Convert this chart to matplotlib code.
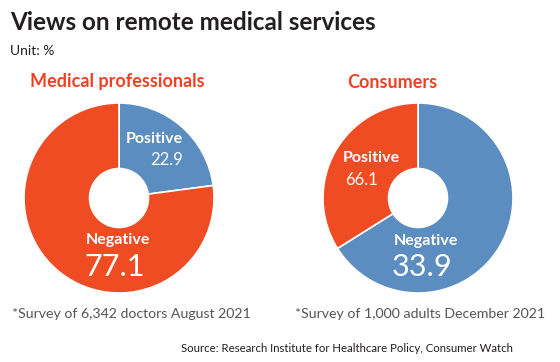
import matplotlib
matplotlib.use("Agg")
import matplotlib.pyplot as plt

W, H = 560, 362
FONT = "Lato"

BLUE = "#5b8dc0"
ORANGE = "#ef4c23"
DARK = "#231f20"
GRAY = "#555555"
TITLE_ORANGE = "#ef4123"

title = "Views on remote medical services"
unit = "Unit: %"
source = "Source: Research Institute for Healthcare Policy, Consumer Watch"

# Medical professionals (drawn clockwise from 12 o'clock)
med_title = "Medical professionals"
med_slices = [22.9, 77.1]
med_colors = [BLUE, ORANGE]
med_labels = ["Positive", "Negative"]
med_values = ["22.9", "77.1"]
med_note = "*Survey of 6,342 doctors August 2021"

# Consumers: slice sizes as drawn in the picture (blue then orange)
con_title = "Consumers"
con_slices = [66.1, 33.9]
con_colors = [BLUE, ORANGE]
con_labels = ["Negative", "Positive"]
con_values = ["33.9", "66.1"]
con_note = "*Survey of 1,000 adults December 2021"

fig = plt.figure(figsize=(W / 100, H / 100), dpi=100)
fig.patch.set_facecolor("white")


def fx(x):
    return x / W


def fy(y):
    return 1 - y / H


def txt(x, y, s, size, color, weight="normal", ha="left", va="center"):
    fig.text(fx(x), fy(y), s, fontsize=size, color=color, fontweight=weight,
             ha=ha, va=va, family=FONT)


def donut(cx, cy, r, slices, colors):
    ax = fig.add_axes([fx(cx - r), fy(cy + r), 2 * r / W, 2 * r / H])
    ax.pie(slices, colors=colors, startangle=90, counterclock=False, radius=1,
           wedgeprops=dict(width=1 - 0.31, edgecolor="white", linewidth=1.2))
    ax.set_xlim(-1, 1)
    ax.set_ylim(-1, 1)
    ax.set_aspect("equal")
    ax.axis("off")


donut(119, 198, 95, med_slices, med_colors)
donut(418, 198, 95, con_slices, con_colors)

txt(10, 22, title, 17.5, DARK, weight="bold")
txt(10, 51, unit, 10, DARK)
txt(30, 82, med_title, 13, TITLE_ORANGE, weight="bold")
txt(347, 82, con_title, 13, TITLE_ORANGE, weight="bold")

# left donut labels
txt(183, 139, med_labels[0], 11.5, "white", weight="bold", ha="right")
txt(183, 160, med_values[0], 12, "white", ha="right")
txt(118, 240, med_labels[1], 11.5, "white", weight="bold", ha="center")
txt(115, 267, med_values[1], 22, "white", ha="center")

# right donut labels
txt(343, 158, con_labels[1], 11.5, "white", weight="bold", ha="left")
txt(345, 180, con_values[1], 12, "white", ha="left")
txt(426, 241, con_labels[0], 11.5, "white", weight="bold", ha="center")
txt(422, 267, con_values[0], 22, "white", ha="center")

txt(12, 314, med_note, 10.2, GRAY)
txt(295, 314, con_note, 10.2, GRAY)
txt(513, 348, source, 8.2, DARK, ha="right")

fig.savefig("out.png", dpi=100, facecolor="white")
